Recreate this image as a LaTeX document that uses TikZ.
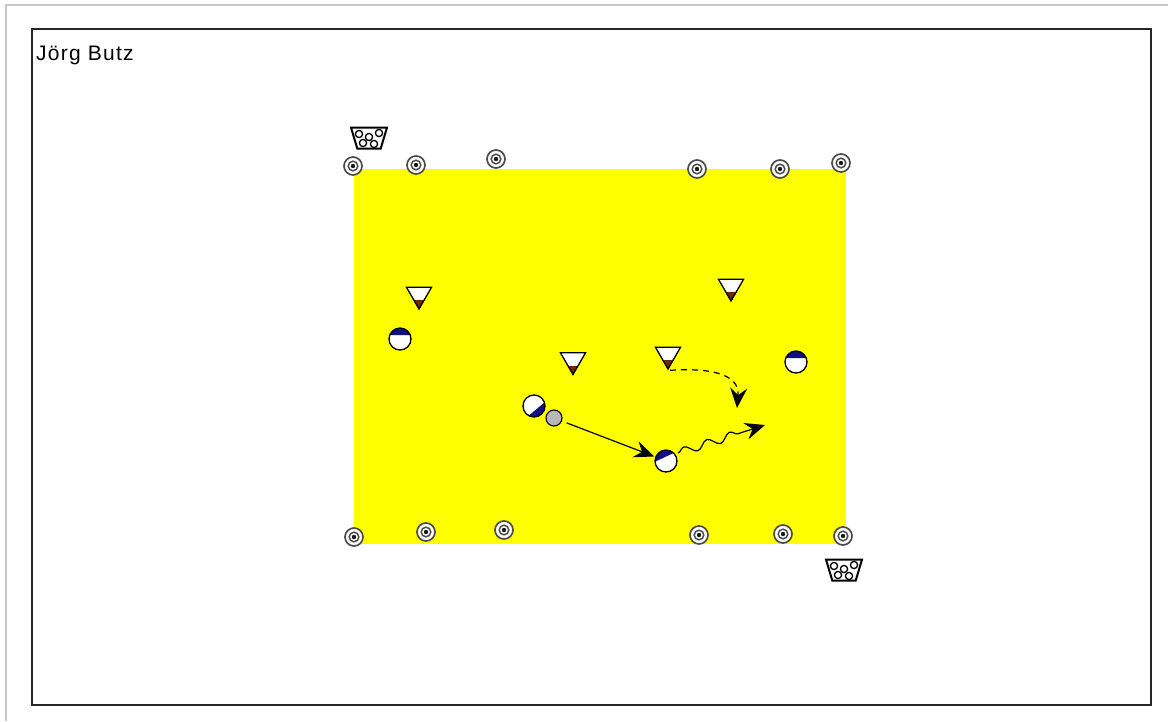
\documentclass[tikz,border=0pt]{standalone}
\usepackage{fontspec}
\setmainfont{Liberation Sans}
\newfontfamily\namefont[LetterSpace=6]{Liberation Sans}
\usetikzlibrary{arrows.meta, shapes.geometric, decorations.pathmorphing}
\definecolor{pitch}{RGB}{255,255,0}
\definecolor{shirt}{RGB}{16,16,128}
\definecolor{tipcol}{RGB}{110,40,10}
\begin{document}
\begin{tikzpicture}[x=1pt, y=-1pt,
    player/.style={circle, draw, fill=white, line width=1.3pt, minimum size=22pt, inner sep=0pt,
      path picture={\fill[shirt] (#1+75.5:16pt) -- (#1:25pt) -- (#1-75.5:16pt) -- cycle;}},
    ballnode/.style={circle, draw, fill=black!28, line width=1.1pt, minimum size=16pt, inner sep=0pt},
    cone/.style={regular polygon, regular polygon sides=3, shape border rotate=180, draw, fill=white,
      line width=1.3pt, minimum size=29pt, inner sep=0pt,
      path picture={\fill[tipcol] (-6,5.5) rectangle (6,20);}},
    marker/.style={circle, draw=black!70, fill=white, line width=1.7pt, minimum size=18pt, inner sep=0pt,
      path picture={\draw[black!70, line width=1.5pt] (0,0) circle (4.8);
        \fill[black!90] (0,0) circle (2.2);}},
    goal/.style={trapezium, trapezium stretches=true, trapezium left angle=75, trapezium right angle=75,
      shape border rotate=180, draw, fill=white, line width=2pt, minimum width=36pt, minimum height=21pt,
      inner sep=1pt,
      path picture={\foreach \hx/\hy in {-10/-4, 0/-1, 10/-5, -6/5, 5/6}
        {\draw[line width=1.3pt] (\hx,\hy) circle (3.6);}}},
    run/.style={-{Stealth[length=20pt, width=17pt, inset=7pt]}, line width=1.2pt}]
  \useasboundingbox (0,0) rectangle (1168,721);
  % --- outer edge and frame ---
  \fill[white] (0,0) rectangle (1168,721);
  \draw[black!22, line width=1.5pt] (6,721) -- (6,5) -- (1168,5);
  \draw[black!85, line width=1.5pt] (32,29) rectangle (1151,705);
  \node[anchor=west, inner sep=0pt, font=\fontsize{21}{23}\namefont, text=black] (author) at (36,55) {Jörg Butz};
  % --- pitch ---
  \fill[pitch] (354,169) rectangle (846,544);
  % --- top row ---
  \node[goal] (goalA) at (369,138) {};
  \node[marker] (mA) at (353,166) {};
  \node[marker] (mB) at (416,165) {};
  \node[marker] (mC) at (496,159) {};
  \node[marker] (mD) at (697,169) {};
  \node[marker] (mE) at (780,169) {};
  \node[marker] (mF) at (841,163) {};
  % --- bottom row ---
  \node[goal] (goalB) at (844,570) {};
  \node[marker] (mG) at (354,537) {};
  \node[marker] (mH) at (426,532) {};
  \node[marker] (mI) at (504,530) {};
  \node[marker] (mJ) at (699,535) {};
  \node[marker] (mK) at (783,534) {};
  \node[marker] (mL) at (843,536) {};
  % --- cones ---
  \node[cone] (coneA) at (419,294.5) {};
  \node[cone] (coneB) at (731,286.5) {};
  \node[cone] (coneC) at (573,360) {};
  \node[cone] (coneD) at (668,354.5) {};
  % --- players and ball ---
  \node[player=90] (playerA) at (400,339) {};
  \node[player=90] (playerB) at (796,362) {};
  \node[player=-50] (playerC) at (534,406) {};
  \node[player=115] (playerD) at (666,461) {};
  \node[ballnode] (ball) at (554,418) {};
  \coordinate (dashend) at (737,408);
  \coordinate (waveend) at (765,425);
  % --- runs ---
  \draw[run, shorten <=5pt, shorten >=1pt] (ball) -- (playerD);
  \draw[run, dash pattern=on 6pt off 5pt] (coneD.south) ++(2,0) .. controls (705,368) and (740,372) .. (dashend);
  \draw[run, decorate, decoration={snake, amplitude=4pt, segment length=24pt, post length=19pt}]
    (playerD) ++(12,-8) -- (waveend);
\end{tikzpicture}
\end{document}
